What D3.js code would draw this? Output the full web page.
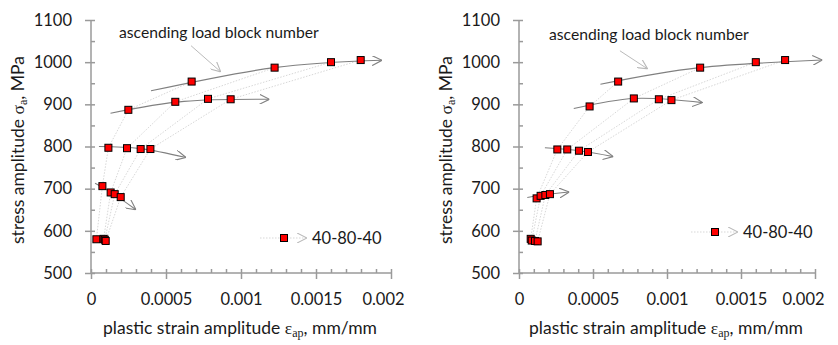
<!DOCTYPE html>
<html>
<head>
  <title>Stress vs plastic strain amplitude</title>
  <script src="https://d3js.org/d3.v7.min.js"></script>
</head>
<body style="margin:0px; overflow:hidden; background:#fff;">
  <svg id="chart" width="838" height="345"></svg>
  <script>
    // Data: strain (mm/mm) and stress (MPa) per load level, 4 blocks each
    // left panel
    const leftStrain580 = [0.000036, 0.000084, 0.000092, 0.000098];
    const leftStress580 = [580, 581, 579, 576];
    const leftStrain700 = [0.000076, 0.000131, 0.000158, 0.000198];
    const leftStress700 = [706, 691, 687, 680];
    const leftStrain800 = [0.000116, 0.00024, 0.000331, 0.000396];
    const leftStress800 = [797, 796, 794, 794];
    const leftStrain900 = [0.000249, 0.000562, 0.00078, 0.000931];
    const leftStress900 = [887, 906, 913, 912];
    const leftStrain1000 = [0.000671, 0.001224, 0.0016, 0.001798];
    const leftStress1000 = [954, 987, 1000, 1005];

    // right panel
    const rightStrain580 = [0.000079, 0.000086, 0.000108, 0.000126];
    const rightStress580 = [581, 577, 576, 575];
    const rightStrain700 = [0.000119, 0.000146, 0.000178, 0.000209];
    const rightStress700 = [677, 683, 685, 687];
    const rightStrain800 = [0.000259, 0.000326, 0.000405, 0.000466];
    const rightStress800 = [793, 793, 790, 787];
    const rightStrain900 = [0.000477, 0.000776, 0.000945, 0.00103];
    const rightStress900 = [895, 914, 912, 910];
    const rightStrain1000 = [0.00067, 0.001224, 0.0016, 0.001798];
    const rightStress1000 = [954, 987, 1000, 1005];

    // trend arrows [start, through, end] as [strain, stress]
    const leftArrows = [
      [[0.000027, 713], [0.00014, 690], [0.0003, 650]],
      [[0.000053, 800], [0.00033, 795], [0.000633, 774]],
      [[0.00013, 879], [0.00062, 907], [0.00119, 912]],
      [[0.0004, 932], [0.00122, 987], [0.00194, 1004.5]]
    ];
    const rightArrows = [
      [[0.000056, 679], [0.00018, 686], [0.00034, 692]],
      [[0.000175, 797], [0.00041, 790], [0.000637, 776]],
      [[0.00037, 890], [0.00078, 914], [0.00124, 904]],
      [[0.00055, 947.5], [0.00122, 987], [0.00205, 1005]]
    ];
    const leftPointer = [[0.000667, 1039], [0.000865, 977]];
    const rightPointer = [[0.000682, 1027], [0.000869, 984]];

    const xTicks = [0, 0.0005, 0.001, 0.0015, 0.002];
    const yTicks = [500, 600, 700, 800, 900, 1000, 1100];
    const seriesName = "40-80-40";
    const noteText = "ascending load block number";

    const svg = d3.select("#chart");
    const defs = svg.append("defs");
    function chevron(id, color) {
      defs.append("marker")
        .attr("id", id)
        .attr("viewBox", "0 0 10 10")
        .attr("refX", 10).attr("refY", 5)
        .attr("markerWidth", 10).attr("markerHeight", 10)
        .attr("markerUnits", "userSpaceOnUse")
        .attr("orient", "auto")
        .append("path")
        .attr("d", "M0,0 L10,5 L0,10")
        .attr("fill", "none")
        .attr("stroke", color)
        .attr("stroke-width", 1.1);
    }
    chevron("arr", "#808080");
    chevron("arrLight", "#b8b8b8");

    const axisColor = "#9a9a9a";
    const font = "Lato, 'Open Sans', sans-serif";
    const serif = "'Liberation Serif', 'DejaVu Serif', serif";

    function drawPanel(p) {
      const x = d3.scaleLinear().domain([0, 0.002]).range([p.x0, p.x1]);
      const y = d3.scaleLinear().domain([500, 1100]).range([273, 20]);
      const g = svg.append("g");

      const strains = [p.s580, p.s700, p.s800, p.s900, p.s1000];
      const stresses = [p.t580, p.t700, p.t800, p.t900, p.t1000];

      // faint block connectors
      const line = d3.line().x(d => x(d[0])).y(d => y(d[1]));
      for (let b = 0; b < 4; b++) {
        const pts = strains.map((s, i) => [s[b], stresses[i][b]]);
        g.append("path")
          .attr("d", line(pts))
          .attr("fill", "none")
          .attr("stroke", "#cdcdcd")
          .attr("stroke-width", 0.8)
          .attr("stroke-dasharray", "1.5,1.5");
      }

      // trend arrows
      const curve = d3.line().x(d => x(d[0])).y(d => y(d[1])).curve(d3.curveNatural);
      p.arrows.forEach(a => {
        g.append("path")
          .attr("d", curve(a))
          .attr("fill", "none")
          .attr("stroke", "#808080")
          .attr("stroke-width", 1.1)
          .attr("marker-end", "url(#arr)");
      });

      // axes (major ticks cross the axis, minor ticks inside)
      const yOut = g.append("g").attr("transform", "translate(" + p.x0 + ",0)")
        .call(d3.axisLeft(y).tickValues(yTicks).tickSize(6).tickPadding(13).tickFormat(d3.format("d")));
      g.append("g").attr("transform", "translate(" + p.x0 + ",0)")
        .call(d3.axisRight(y).tickValues(d3.range(500, 1101, 50)).tickSize(4).tickFormat(""));
      const xOut = g.append("g").attr("transform", "translate(0,273)")
        .call(d3.axisBottom(x).tickValues(xTicks).tickSize(6).tickPadding(14).tickFormat(d => d === 0 ? "0" : String(+d.toFixed(4))));
      g.append("g").attr("transform", "translate(0,273)")
        .call(d3.axisTop(x).tickValues(d3.range(0, 21).map(i => i * 0.0001)).tickSize(4).tickFormat(""));
      g.selectAll(".domain").remove();
      g.selectAll(".tick line").attr("stroke", axisColor).attr("stroke-width", 1.5);
      [yOut, xOut].forEach(ax => ax.selectAll("text").attr("font-family", font).attr("font-size", 16.5).attr("fill", "#1a1a1a"));
      // keep last x label inside chart area
      xOut.selectAll(".tick text").filter(d => d === 0.002).attr("dx", p.lastDx);

      g.append("line").attr("x1", p.x0).attr("x2", p.x0).attr("y1", 20).attr("y2", 273)
        .attr("stroke", axisColor).attr("stroke-width", 1.5);
      g.append("line").attr("x1", p.x0).attr("x2", p.x1).attr("y1", 273).attr("y2", 273)
        .attr("stroke", axisColor).attr("stroke-width", 1.5);

      // markers
      strains.forEach((s, i) => {
        g.selectAll(null).data(s.map((v, k) => [v, stresses[i][k]])).enter()
          .append("rect")
          .attr("x", d => x(d[0]) - 3.5)
          .attr("y", d => y(d[1]) - 3.5)
          .attr("width", 7).attr("height", 7)
          .attr("fill", "#ff0000")
          .attr("stroke", "#000").attr("stroke-width", 1);
      });

      // note + pointer
      g.append("text")
        .attr("x", p.noteX).attr("y", p.noteY)
        .attr("font-family", font).attr("font-size", 15.7).attr("fill", "#1a1a1a")
        .text(noteText);
      g.append("path")
        .attr("d", line(p.pointer))
        .attr("stroke", "#a8a8a8").attr("stroke-width", 0.8).attr("fill", "none")
        .attr("marker-end", "url(#arrLight)");

      // legend
      g.append("line")
        .attr("x1", p.legX).attr("x2", p.legX + 47).attr("y1", p.legY).attr("y2", p.legY)
        .attr("stroke", "#cdcdcd").attr("stroke-width", 0.8).attr("stroke-dasharray", "1.5,1.5")
        .attr("marker-end", "url(#arrLight)");
      g.append("rect")
        .attr("x", p.legX + 24 - 3.5).attr("y", p.legY - 3.5).attr("width", 7).attr("height", 7)
        .attr("fill", "#ff0000").attr("stroke", "#000").attr("stroke-width", 1);
      g.append("text")
        .attr("x", p.legX + 52).attr("y", p.legY + 6)
        .attr("font-family", font).attr("font-size", 16.5).attr("fill", "#1a1a1a")
        .text(seriesName);

      // axis titles
      const xt = g.append("text")
        .attr("x", (p.x0 + p.x1) / 2 - 1).attr("y", 334)
        .attr("text-anchor", "middle")
        .attr("font-family", font).attr("font-size", 17.5).attr("fill", "#1a1a1a");
      xt.append("tspan").text("plastic strain amplitude ");
      xt.append("tspan").attr("font-family", serif).text("ε");
      xt.append("tspan").attr("font-family", serif).attr("font-size", 12).attr("dy", 3).text("ap");
      xt.append("tspan").attr("dy", -3).text(", mm/mm");

      const yt = g.append("text")
        .attr("transform", "translate(" + (p.x0 - 67) + ",150) rotate(-90)")
        .attr("text-anchor", "middle")
        .attr("font-family", font).attr("font-size", 17.5).attr("fill", "#1a1a1a");
      yt.append("tspan").text("stress amplitude ");
      yt.append("tspan").attr("font-family", serif).text("σ");
      yt.append("tspan").attr("font-family", serif).attr("font-size", 12).attr("dy", 3).text("a");
      yt.append("tspan").attr("dy", -3).text(", MPa");
    }

    drawPanel({
      x0: 91, x1: 391, lastDx: -8,
      s580: leftStrain580, t580: leftStress580,
      s700: leftStrain700, t700: leftStress700,
      s800: leftStrain800, t800: leftStress800,
      s900: leftStrain900, t900: leftStress900,
      s1000: leftStrain1000, t1000: leftStress1000,
      arrows: leftArrows, pointer: leftPointer,
      noteX: 119, noteY: 38, legX: 260, legY: 238
    });
    drawPanel({
      x0: 519, x1: 815, lastDx: -12,
      s580: rightStrain580, t580: rightStress580,
      s700: rightStrain700, t700: rightStress700,
      s800: rightStrain800, t800: rightStress800,
      s900: rightStrain900, t900: rightStress900,
      s1000: rightStrain1000, t1000: rightStress1000,
      arrows: rightArrows, pointer: rightPointer,
      noteX: 549, noteY: 40, legX: 691, legY: 232
    });
  </script>
</body>
</html>
